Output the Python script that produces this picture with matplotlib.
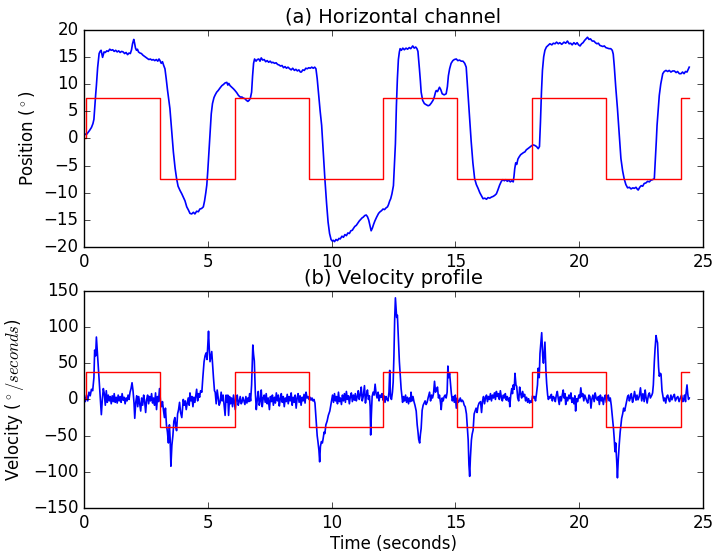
import matplotlib
matplotlib.use('Agg')
import matplotlib.pyplot as plt

# stimulus switch times (seconds) and target levels
switch_t = [0.0, 0.1, 3.07, 6.08, 9.09, 12.07, 15.08, 18.09, 21.1, 24.12, 24.45]
target_pos = [0, 7.5, -7.5, 7.5, -7.5, 7.5, -7.5, 7.5, -7.5, 7.5, 7.5]
target_vel = [0, 37.5, -37.5, 37.5, -37.5, 37.5, -37.5, 37.5, -37.5, 37.5, 37.5]

pos_t = [0.00, 0.05, 0.10, 0.15, 0.23, 0.30, 0.36, 0.40, 0.43, 0.47, 0.50, 0.55, 0.61, 0.65, 0.69, 0.72,
         0.75, 0.78, 0.81, 0.86, 0.92, 0.98, 1.04, 1.10, 1.16, 1.22, 1.28, 1.34, 1.40, 1.46, 1.52, 1.58,
         1.64, 1.70, 1.76, 1.82, 1.87, 1.92, 1.96, 2.01, 2.04, 2.08, 2.12, 2.16, 2.20, 2.26, 2.32, 2.38,
         2.44, 2.50, 2.56, 2.62, 2.68, 2.74, 2.80, 2.86, 2.92, 2.98, 3.03, 3.07, 3.12, 3.17, 3.22, 3.27,
         3.32, 3.37, 3.42, 3.47, 3.54, 3.61, 3.68, 3.74, 3.80, 3.88, 3.95, 4.01, 4.08, 4.15, 4.22, 4.28,
         4.35, 4.42, 4.48, 4.55, 4.62, 4.68, 4.75, 4.82, 4.87, 4.92, 4.96, 5.00, 5.04, 5.09, 5.14, 5.19,
         5.25, 5.30, 5.36, 5.42, 5.50, 5.57, 5.63, 5.70, 5.77, 5.81, 5.85, 5.90, 5.97, 6.04, 6.10, 6.17,
         6.24, 6.31, 6.38, 6.44, 6.50, 6.56, 6.62, 6.67, 6.72, 6.77, 6.81, 6.85, 6.89, 6.95, 7.00, 7.06,
         7.11, 7.16, 7.22, 7.28, 7.34, 7.40, 7.46, 7.52, 7.58, 7.63, 7.70, 7.76, 7.82, 7.88, 7.94, 8.00,
         8.06, 8.12, 8.18, 8.24, 8.31, 8.37, 8.43, 8.50, 8.56, 8.62, 8.68, 8.74, 8.78, 8.84, 8.90, 8.96,
         9.02, 9.08, 9.14, 9.20, 9.26, 9.32, 9.37, 9.42, 9.48, 9.54, 9.60, 9.67, 9.73, 9.80, 9.86, 9.92,
         9.98, 10.03, 10.07, 10.12, 10.18, 10.24, 10.30, 10.35, 10.42, 10.48, 10.54, 10.60, 10.66, 10.72,
         10.78, 10.84, 10.88, 10.94, 11.00, 11.06, 11.12, 11.18, 11.24, 11.28, 11.34, 11.40, 11.45, 11.50,
         11.55, 11.60, 11.65, 11.70, 11.75, 11.82, 11.90, 11.96, 12.02, 12.08, 12.14, 12.20, 12.26, 12.30,
         12.35, 12.39, 12.44, 12.50, 12.54, 12.58, 12.62, 12.66, 12.70, 12.74, 12.77, 12.82, 12.88, 12.94,
         13.01, 13.07, 13.14, 13.20, 13.28, 13.34, 13.40, 13.45, 13.49, 13.52, 13.55, 13.59, 13.62, 13.68,
         13.75, 13.82, 13.90, 13.96, 14.03, 14.10, 14.15, 14.20, 14.23, 14.28, 14.32, 14.36, 14.41, 14.47,
         14.55, 14.63, 14.68, 14.72, 14.77, 14.83, 14.90, 14.96, 15.04, 15.10, 15.17, 15.24, 15.31, 15.38,
         15.44, 15.48, 15.53, 15.58, 15.64, 15.71, 15.78, 15.85, 15.92, 15.99, 16.06, 16.12, 16.19, 16.26,
         16.32, 16.39, 16.46, 16.52, 16.59, 16.66, 16.72, 16.79, 16.86, 16.92, 16.98, 17.04, 17.10, 17.16,
         17.22, 17.28, 17.34, 17.37, 17.40, 17.44, 17.48, 17.53, 17.58, 17.64, 17.70, 17.76, 17.81, 17.87,
         17.93, 18.01, 18.07, 18.14, 18.21, 18.28, 18.35, 18.40, 18.44, 18.48, 18.52, 18.57, 18.62, 18.68,
         18.75, 18.82, 18.90, 18.96, 19.03, 19.09, 19.16, 19.22, 19.30, 19.39, 19.46, 19.53, 19.60, 19.66,
         19.72, 19.79, 19.86, 19.92, 19.98, 20.04, 20.10, 20.16, 20.22, 20.28, 20.34, 20.40, 20.46, 20.53,
         20.60, 20.66, 20.72, 20.78, 20.84, 20.90, 20.96, 21.02, 21.08, 21.14, 21.21, 21.28, 21.34, 21.38,
         21.42, 21.48, 21.55, 21.62, 21.69, 21.76, 21.82, 21.89, 21.96, 22.03, 22.10, 22.17, 22.23, 22.30,
         22.36, 22.39, 22.45, 22.51, 22.57, 22.63, 22.70, 22.77, 22.84, 22.90, 22.97, 23.04, 23.08, 23.12,
         23.15, 23.20, 23.24, 23.30, 23.38, 23.44, 23.51, 23.58, 23.64, 23.71, 23.78, 23.85, 23.92, 23.98,
         24.05, 24.12, 24.18, 24.24, 24.30, 24.36, 24.40, 24.45]
pos_v = [0.5, 0.8, 0.7, 1.0, 1.5, 2.0, 2.7, 3.5, 5.5, 8.0, 9.7, 13.0, 15.6, 16.0, 16.2, 15.5,
         14.9, 15.4, 15.9, 15.8, 16.1, 16.0, 16.4, 16.2, 16.3, 16.0, 16.2, 15.9, 16.1, 15.8, 16.0, 15.9,
         15.6, 15.8, 15.4, 15.7, 15.6, 16.3, 17.4, 18.2, 17.6, 16.6, 16.2, 16.4, 15.9, 15.7, 15.6, 15.3,
         15.1, 14.9, 14.7, 14.5, 14.6, 14.4, 14.5, 14.3, 14.5, 14.2, 14.6, 14.3, 13.8, 14.1, 13.4, 12.8,
         11.0, 9.0, 7.2, 5.5, 1.5, -2.5, -5.5, -7.4, -8.8, -9.6, -10.2, -10.8, -11.5, -12.6, -13.2, -13.8,
         -13.9, -13.6, -13.9, -13.4, -13.5, -13.0, -12.9, -12.6, -11.5, -10.0, -8.6, -6.0, -3.0, 0.5, 4.5, 6.4,
         7.5, 8.0, 8.5, 8.8, 9.3, 9.7, 9.9, 10.2, 10.3, 9.8, 10.1, 9.7, 9.4, 9.1, 8.8, 8.4,
         7.9, 7.6, 7.6, 7.4, 7.3, 7.0, 6.8, 7.0, 7.4, 8.5, 11.5, 13.8, 14.6, 14.2, 14.5, 14.6,
         14.2, 14.8, 14.4, 14.5, 14.1, 14.3, 14.0, 14.2, 13.9, 14.0, 13.8, 13.9, 13.6, 13.5, 13.3, 13.4,
         13.0, 13.2, 12.9, 13.1, 12.8, 12.6, 12.9, 12.5, 12.7, 12.4, 12.6, 12.2, 12.2, 12.6, 12.5, 12.9,
         12.8, 13.0, 12.9, 13.1, 12.9, 13.1, 12.8, 11.0, 8.0, 5.0, 2.4, -3.0, -7.4, -12.0, -15.4, -17.5,
         -18.6, -18.9, -18.75, -19.0, -18.6, -18.8, -18.4, -18.5, -18.0, -18.2, -17.7, -17.9, -17.4, -17.5,
         -17.0, -16.9, -16.6, -16.2, -16.0, -15.6, -15.2, -14.9, -14.6, -14.5, -14.2, -14.1, -14.4, -15.0,
         -16.0, -17.0, -16.5, -15.8, -15.2, -14.5, -13.8, -13.5, -13.3, -13.0, -13.1, -12.8, -12.6, -12.2,
         -11.5, -11.1, -10.2, -8.7, -5.0, -1.0, 6.0, 11.0, 14.5, 15.9, 16.5, 16.2, 16.6, 16.3,
         16.6, 16.4, 16.7, 16.5, 17.0, 16.6, 16.8, 16.5, 16.0, 14.5, 12.8, 10.5, 8.5, 7.0,
         6.4, 6.2, 6.0, 6.1, 6.5, 7.0, 7.6, 8.5, 8.8, 8.6, 9.0, 9.4, 9.0, 8.2,
         8.0, 8.2, 9.5, 11.5, 12.8, 13.8, 14.3, 14.5, 14.6, 14.3, 14.4, 14.2, 14.2, 13.8,
         13.1, 10.5, 7.0, 3.6, -0.5, -4.5, -7.4, -8.5, -9.2, -10.0, -10.6, -11.1, -11.0, -11.2,
         -10.9, -11.0, -10.8, -10.7, -10.5, -10.2, -9.5, -8.6, -7.9, -7.6, -7.8, -7.6, -7.9, -7.7,
         -8.0, -7.8, -8.0, -7.0, -5.6, -4.5, -4.8, -3.8, -3.4, -3.0, -2.8, -2.6, -2.5, -2.1,
         -1.9, -1.6, -1.4, -1.2, -1.3, -1.5, -1.9, -1.5, 3.0, 8.5, 12.5, 15.0, 16.2, 16.8,
         17.1, 17.4, 17.2, 17.5, 17.4, 17.7, 17.4, 17.6, 17.3, 17.7, 17.5, 17.9, 17.4, 17.5,
         17.2, 17.6, 17.3, 17.6, 17.2, 17.0, 17.4, 17.6, 18.0, 18.3, 18.6, 18.2, 18.3, 17.9,
         17.9, 17.6, 17.4, 17.5, 17.1, 17.0, 16.9, 17.0, 16.7, 16.6, 16.5, 16.5, 16.2, 15.5,
         13.4, 9.5, 5.5, 1.0, -3.7, -6.0, -7.4, -8.5, -9.1, -9.0, -9.3, -9.1, -9.2, -9.0,
         -9.4, -9.5, -9.0, -8.7, -8.8, -8.3, -8.2, -7.9, -8.0, -7.7, -7.6, -7.4, -4.0, -0.5,
         2.4, 5.5, 7.9, 10.0, 11.9, 12.3, 12.5, 12.3, 12.5, 12.2, 12.4, 12.4, 12.1, 12.3,
         11.9, 11.9, 12.2, 11.9, 12.3, 12.2, 12.6, 13.1]

vel_pts = [
    (0.00, 5), (0.05, -3), (0.10, 6), (0.15, -2), (0.20, 10), (0.25, 5), (0.30, 14), (0.35, 12),
    (0.40, 30), (0.43, 68), (0.47, 60), (0.50, 86), (0.53, 70), (0.57, 48), (0.61, 25), (0.64, 12),
    (0.67, -5), (0.70, -21), (0.74, 0), (0.78, 15), (0.82, 8), (0.86, -8), (0.90, 12), (0.94, -4),
    (0.98, 6), (1.02, -2), (1.06, 4), (1.10, -6), (1.14, 5), (1.18, -3), (1.22, 8), (1.26, -4),
    (1.30, 3), (1.34, -5), (1.38, 6), (1.42, -2), (1.46, 4), (1.50, -4), (1.54, 8), (1.58, -1),
    (1.62, 3), (1.66, -6), (1.70, 2), (1.74, -2), (1.78, 6), (1.82, 0), (1.86, 10), (1.90, 15),
    (1.94, 23), (1.98, 12), (2.02, -5), (2.05, -26), (2.09, -4), (2.13, 5), (2.17, -10), (2.21, 4),
    (2.25, -6), (2.29, -16), (2.33, 2), (2.37, -8), (2.41, 6), (2.45, -3), (2.49, -18), (2.53, 0),
    (2.57, 6), (2.61, -6), (2.65, 4), (2.69, -2), (2.73, 8), (2.77, -5), (2.81, 2), (2.85, -8),
    (2.89, 9), (2.93, -14), (2.97, 4), (3.01, -3), (3.05, 15), (3.09, -2), (3.13, -10), (3.17, -3),
    (3.21, -15), (3.25, -25), (3.29, -12), (3.33, -35), (3.37, -45), (3.41, -60), (3.45, -35),
    (3.48, -55), (3.51, -92), (3.55, -63), (3.59, -50), (3.63, -30), (3.67, -25), (3.71, -38),
    (3.74, -43), (3.78, -20), (3.82, -14), (3.86, -4), (3.90, -18), (3.95, -25), (4.01, 0),
    (4.05, -8), (4.09, -2), (4.13, -14), (4.17, -5), (4.21, 2), (4.25, -8), (4.28, 9), (4.32, -2),
    (4.36, 4), (4.40, -10), (4.44, 3), (4.48, -4), (4.52, 6), (4.55, 14), (4.59, -2), (4.63, 8),
    (4.67, 3), (4.71, 12), (4.76, 10), (4.80, 30), (4.85, 52), (4.89, 60), (4.93, 64), (4.97, 55),
    (5.00, 75), (5.03, 94), (5.06, 70), (5.09, 52), (5.13, 60), (5.16, 66), (5.20, 45), (5.23, 30),
    (5.27, 12), (5.30, 10), (5.34, -6), (5.38, 13), (5.42, 2), (5.46, -8), (5.50, -4), (5.54, 10),
    (5.58, -2), (5.62, 6), (5.66, -8), (5.70, -22), (5.74, 6), (5.78, -4), (5.81, 6), (5.84, -22),
    (5.88, 4), (5.92, -6), (5.96, 2), (6.00, -10), (6.04, 6), (6.08, -6), (6.11, -14), (6.15, 0),
    (6.19, 6), (6.23, -8), (6.27, -3), (6.31, 4), (6.35, -6), (6.38, -4), (6.42, 3), (6.46, -2),
    (6.50, -7), (6.54, 4), (6.58, -5), (6.62, 2), (6.66, -3), (6.69, 8), (6.73, -2), (6.77, 20),
    (6.80, 55), (6.82, 75), (6.85, 62), (6.88, 53), (6.92, 10), (6.96, -14), (7.00, 0), (7.04, 11),
    (7.08, -8), (7.12, -2), (7.16, 13), (7.20, -10), (7.24, 2), (7.28, 6), (7.32, -4), (7.36, 8),
    (7.40, -6), (7.44, 2), (7.49, -14), (7.53, 4), (7.57, -3), (7.61, 6), (7.65, -8), (7.69, 3),
    (7.73, -5), (7.77, 9), (7.81, -2), (7.85, 6), (7.89, -9), (7.93, 1), (7.97, 8), (8.01, -4),
    (8.05, 4), (8.09, -10), (8.13, 2), (8.17, -3), (8.21, 7), (8.25, -6), (8.29, 4), (8.33, -2),
    (8.37, 9), (8.41, -8), (8.45, 3), (8.49, -4), (8.53, 6), (8.57, -12), (8.61, 2), (8.65, 8),
    (8.69, -4), (8.73, 5), (8.77, -8), (8.81, 3), (8.85, -2), (8.89, 7), (8.93, -5), (8.97, 10),
    (9.01, 2), (9.05, 4), (9.09, 0), (9.13, 3), (9.17, -1), (9.21, 2), (9.25, -2), (9.29, 0),
    (9.33, -5), (9.36, -20), (9.39, -35), (9.42, -50), (9.45, -58), (9.49, -70), (9.52, -86),
    (9.55, -65), (9.59, -58), (9.63, -60), (9.66, -54), (9.70, -45), (9.73, -47), (9.77, -35),
    (9.82, -30), (9.87, -22), (9.93, -16), (9.97, -8), (10.01, 0), (10.04, 6), (10.08, -4),
    (10.12, 8), (10.16, -2), (10.20, 4), (10.24, -6), (10.28, 10), (10.32, -3), (10.36, 2),
    (10.40, -7), (10.44, 6), (10.48, -2), (10.52, 8), (10.56, -4), (10.60, 11), (10.64, 0),
    (10.68, 5), (10.72, -6), (10.76, 4), (10.80, 9), (10.84, -3), (10.88, 6), (10.92, -1),
    (10.96, 8), (11.00, -2), (11.04, 4), (11.08, 12), (11.12, 0), (11.16, 6), (11.20, 17),
    (11.24, -2), (11.28, 4), (11.33, 19), (11.37, -5), (11.41, 6), (11.45, 13), (11.49, 0),
    (11.53, 5), (11.56, -10), (11.58, -49), (11.61, -20), (11.64, 4), (11.68, 10), (11.72, 6),
    (11.76, 21), (11.80, 8), (11.84, 2), (11.88, 10), (11.92, -2), (11.96, 6), (12.00, 3),
    (12.04, 8), (12.08, -1), (12.12, 5), (12.16, -4), (12.20, 4), (12.24, 0), (12.28, -2),
    (12.32, 10), (12.35, 40), (12.38, 4), (12.42, 0), (12.46, 10), (12.49, 24), (12.52, 60),
    (12.55, 110), (12.58, 140), (12.61, 125), (12.63, 113), (12.66, 116), (12.70, 85), (12.74, 52),
    (12.78, 30), (12.81, 15), (12.84, 6), (12.87, -4), (12.91, 4), (12.95, -2), (12.99, 6),
    (13.03, -4), (13.07, 3), (13.11, -6), (13.15, 2), (13.19, -3), (13.21, 10), (13.25, -2),
    (13.29, 4), (13.33, -3), (13.37, -8), (13.42, -16), (13.46, -35), (13.49, -44), (13.52, -55),
    (13.56, -60), (13.59, -48), (13.62, -40), (13.66, -15), (13.70, -8), (13.74, -5), (13.78, -2),
    (13.82, -7), (13.86, -4), (13.90, 2), (13.96, 10), (14.00, -2), (14.04, 6), (14.08, 2),
    (14.12, 8), (14.16, 25), (14.20, 10), (14.24, 14), (14.28, 17), (14.32, 2), (14.36, 6),
    (14.40, -4), (14.43, -14), (14.47, 2), (14.51, -2), (14.55, 4), (14.59, 6), (14.63, 2),
    (14.67, 10), (14.70, 46), (14.73, 30), (14.77, 36), (14.80, 24), (14.84, 8), (14.88, -2),
    (14.92, 4), (14.96, -4), (15.00, 6), (15.04, -12), (15.08, 2), (15.12, -4), (15.16, -2),
    (15.20, 2), (15.24, -3), (15.28, -1), (15.32, -3), (15.36, -8), (15.40, -10), (15.45, -20),
    (15.49, -40), (15.52, -56), (15.55, -90), (15.58, -106), (15.61, -80), (15.65, -56),
    (15.68, -48), (15.72, -42), (15.76, -20), (15.80, -16), (15.84, -12), (15.88, -18), (15.92, -9),
    (15.96, -5), (16.02, -3), (16.06, -18), (16.10, -2), (16.14, 4), (16.18, -6), (16.22, 2),
    (16.26, 6), (16.30, -3), (16.34, 4), (16.38, 0), (16.42, 8), (16.46, -2), (16.50, 6),
    (16.54, 2), (16.58, 9), (16.62, 0), (16.66, 11), (16.70, 4), (16.74, 8), (16.78, 0),
    (16.82, 12), (16.86, 3), (16.90, -2), (16.94, 6), (16.98, 2), (17.02, 8), (17.06, -1),
    (17.10, 4), (17.14, -2), (17.18, 2), (17.20, -10), (17.24, 6), (17.28, 15), (17.31, 8),
    (17.34, 20), (17.38, 14), (17.41, 36), (17.45, 20), (17.48, 18), (17.52, 2), (17.56, -2),
    (17.60, 17), (17.64, 8), (17.68, 2), (17.72, 11), (17.76, 4), (17.80, 7), (17.84, -2),
    (17.88, 3), (17.92, -4), (17.96, 1), (18.00, -5), (18.04, -2), (18.08, -4), (18.12, 5),
    (18.16, 2), (18.20, 4), (18.24, -2), (18.28, 8), (18.32, 20), (18.35, 43), (18.39, 30),
    (18.42, 63), (18.45, 75), (18.49, 92), (18.53, 60), (18.56, 50), (18.59, 65), (18.62, 79),
    (18.66, 40), (18.69, 22), (18.73, 6), (18.76, 0), (18.80, 4), (18.84, 2), (18.88, 7),
    (18.92, -2), (18.96, 4), (19.00, 2), (19.04, -3), (19.08, 6), (19.12, 11), (19.16, 1),
    (19.20, -7), (19.24, 4), (19.28, -2), (19.32, 6), (19.36, 13), (19.39, 2), (19.43, 8),
    (19.46, -7), (19.50, 3), (19.54, -2), (19.59, 6), (19.63, 1), (19.67, 9), (19.71, -4),
    (19.75, 2), (19.79, -6), (19.83, 5), (19.86, -16), (19.90, 1), (19.94, -3), (19.99, 6),
    (20.03, 2), (20.07, 16), (20.11, 4), (20.15, 8), (20.19, -2), (20.23, 6), (20.27, 2),
    (20.31, -2), (20.35, -5), (20.40, 6), (20.44, 4), (20.48, -12), (20.52, 1), (20.56, 6),
    (20.61, -3), (20.65, 9), (20.69, 2), (20.74, -1), (20.78, 4), (20.82, -7), (20.86, 6),
    (20.90, -2), (20.94, 3), (20.98, -7), (21.02, 2), (21.06, 6), (21.10, -4), (21.14, 3),
    (21.18, 6), (21.22, -2), (21.26, 2), (21.30, -8), (21.35, -26), (21.39, -40), (21.42, -54),
    (21.45, -72), (21.48, -60), (21.52, -85), (21.55, -108), (21.58, -85), (21.62, -63),
    (21.66, -45), (21.69, -35), (21.72, -26), (21.76, -20), (21.80, -12), (21.84, -16),
    (21.89, -8), (21.93, -1), (21.96, 4), (22.00, 6), (22.03, -2), (22.07, 2), (22.11, 8),
    (22.16, -4), (22.20, 2), (22.24, 11), (22.30, -1), (22.34, 6), (22.38, -0.5), (22.43, 4),
    (22.48, 16), (22.53, -2), (22.58, 8), (22.63, -3), (22.67, 13), (22.70, 4), (22.75, -5),
    (22.80, 6), (22.84, 9), (22.88, 2), (22.94, 6), (22.97, 9), (23.00, 20), (23.04, 52),
    (23.07, 70), (23.11, 88), (23.14, 82), (23.17, 78), (23.21, 45), (23.24, 32), (23.28, 36),
    (23.31, 35), (23.35, 12), (23.38, 6), (23.42, -2), (23.46, 2), (23.50, -5), (23.54, 4),
    (23.58, 6), (23.62, 0), (23.66, -3), (23.71, 6), (23.75, -0.5), (23.80, 4), (23.85, 7),
    (23.89, -2), (23.94, 2), (23.99, 4), (24.04, -3), (24.09, 2), (24.14, 6), (24.19, -3),
    (24.23, 1), (24.26, 6), (24.30, -3), (24.32, 8), (24.36, 20), (24.39, 8), (24.42, 0),
    (24.45, 2),
]
vel_t = [p[0] for p in vel_pts]
vel_v = [p[1] for p in vel_pts]


def draw_panel(ax, t, v, target, ylim, ylabel, title):
    ax.plot(t, v, color='b', lw=1.2)
    ax.plot(switch_t, target, color='r', lw=1.0, drawstyle='steps-post')
    ax.set_xlim(0, 25)
    ax.set_ylim(ylim)
    ax.set_ylabel(ylabel)
    ax.set_title(title, fontsize=14)


plt.style.use('classic')
fig = plt.figure(figsize=(7.15, 5.54), dpi=100, facecolor='white')

ax1 = fig.add_axes([0.1175, 0.554, 0.8655, 0.3925])
draw_panel(ax1, pos_t, pos_v, target_pos, (-20, 20), r'Position ($^\circ$)', '(a) Horizontal channel')

ax2 = fig.add_axes([0.1175, 0.0825, 0.8655, 0.393])
draw_panel(ax2, vel_t, vel_v, target_vel, (-150, 150), r'Velocity ($^\circ/seconds$)', '(b) Velocity profile')
ax2.set_xlabel('Time (seconds)', labelpad=2)

fig.savefig('out.png', dpi=100, facecolor='white')
